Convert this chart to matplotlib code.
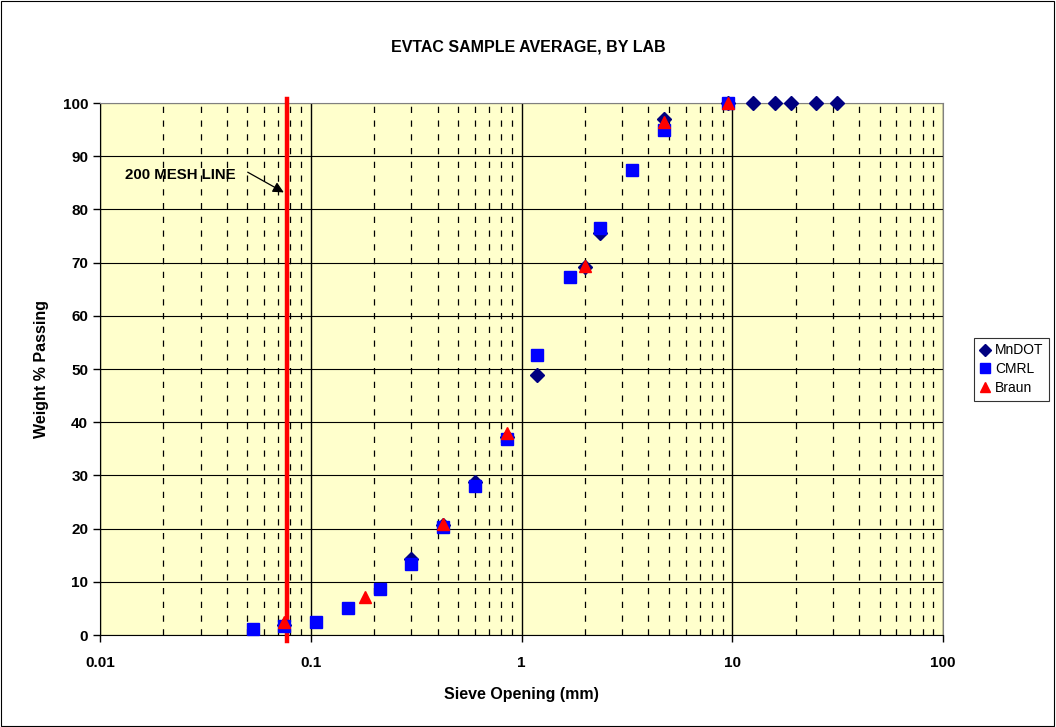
import matplotlib
matplotlib.use("Agg")
import matplotlib.pyplot as plt
from matplotlib.ticker import FixedLocator, NullFormatter
from matplotlib.patches import Rectangle

# Sieve openings (mm) and % passing
mndot_size = [0.075, 0.3, 0.425, 0.6, 0.85, 1.18, 2.0, 2.36, 4.75, 9.5, 12.5, 16, 19, 25, 31.5]
mndot_pass = [1.8, 14.3, 20.6, 28.8, 37.3, 48.8, 69.2, 75.6, 97.0, 100, 100, 100, 100, 100, 100]

cmrl_size = [0.053, 0.075, 0.106, 0.15, 0.212, 0.3, 0.425, 0.6, 0.85, 1.18, 1.7, 2.36, 3.35, 4.75, 9.5]
cmrl_pass = [1.1, 1.7, 2.4, 5.0, 8.6, 13.4, 20.3, 28.0, 36.9, 52.7, 67.3, 76.6, 87.5, 95.0, 100]

braun_size = [0.075, 0.18, 0.425, 0.85, 2.0, 4.75, 9.5]
braun_pass = [2.4, 7.1, 20.8, 38.0, 69.3, 96.5, 100]

mesh_200 = 0.077

plt.rcParams['font.family'] = ['Liberation Sans', 'DejaVu Sans']

fig = plt.figure(figsize=(10.56, 7.27), dpi=100)
fig.patches.append(Rectangle((0.001, 0.001), 0.997, 0.997, transform=fig.transFigure,
                             fill=False, edgecolor='black', linewidth=0.8))

ax = fig.add_axes([0.0947, 0.1265, 0.7983, 0.7318])
ax.set_facecolor('#FFFFCC')
ax.set_xscale('log')
ax.set_xlim(0.01, 100)
ax.set_ylim(0, 100)

# grid: solid for majors, dashed for minor x
ax.set_yticks(range(0, 101, 10))
minors = [m * 10.0 ** e for e in range(-2, 2) for m in range(2, 10)]
ax.xaxis.set_minor_locator(FixedLocator(minors))
ax.xaxis.set_minor_formatter(NullFormatter())
ax.set_xticks([0.01, 0.1, 1, 10, 100])
ax.set_xticklabels(['0.01', '0.1', '1', '10', '100'])
ax.grid(True, which='major', axis='x', color='black', linewidth=1.0)
ax.grid(True, which='major', axis='y', color='black', linewidth=0.8)
ax.grid(True, which='minor', axis='x', color='black', linewidth=0.9, linestyle=(0, (5, 6)))
ax.set_axisbelow(True)
ax.tick_params(which='minor', length=0)
ax.tick_params(which='major', direction='out', length=5, width=1, labelsize=11)
for lab in ax.get_xticklabels() + ax.get_yticklabels():
    lab.set_fontweight('bold')
ax.tick_params(axis='x', pad=10)

for side in ['top', 'right']:
    ax.spines[side].set_color('#808080')
for side in ['left', 'bottom']:
    ax.spines[side].set_color('black')

# 200 mesh line, extends a little past the plot area
ax.plot([mesh_200, mesh_200], [-1.2, 100.8], color='#FF0000', linewidth=3.2, clip_on=False, zorder=3)

ax.plot(mndot_size, mndot_pass, linestyle='none', marker='D', markersize=7,
        color='#000080', label='MnDOT', zorder=4, clip_on=False)
ax.plot(cmrl_size, cmrl_pass, linestyle='none', marker='s', markersize=9,
        color='#0000FF', label='CMRL', zorder=5, clip_on=False)
ax.plot(braun_size, braun_pass, linestyle='none', marker='^', markersize=9,
        color='#FF0000', label='Braun', zorder=6, clip_on=False)

ax.text(0.0131, 86.4, '200 MESH LINE', fontsize=10.8, fontweight='bold', va='center', ha='left')
ax.annotate('', xy=(0.0745, 83.2), xytext=(0.0502, 87.0),
            arrowprops=dict(arrowstyle='-|>', color='black', lw=0.9, mutation_scale=16,
                            shrinkA=0, shrinkB=0))

ax.set_xlabel('Sieve Opening (mm)', fontsize=11.5, fontweight='bold', labelpad=12)
ax.set_ylabel('Weight % Passing', fontsize=11.5, fontweight='bold', labelpad=10)
fig.text(0.5, 0.935, 'EVTAC SAMPLE AVERAGE, BY LAB', ha='center', va='center',
         fontsize=11.5, fontweight='bold')

leg = fig.legend(loc='center', bbox_to_anchor=(0.958, 0.492), frameon=True,
                 fancybox=False, edgecolor='black', fontsize=10, handlelength=0.8,
                 handletextpad=0.3, borderpad=0.4, labelspacing=0.35, markerscale=0.85)
leg.get_frame().set_linewidth(0.8)

fig.savefig('out.png', dpi=100)
